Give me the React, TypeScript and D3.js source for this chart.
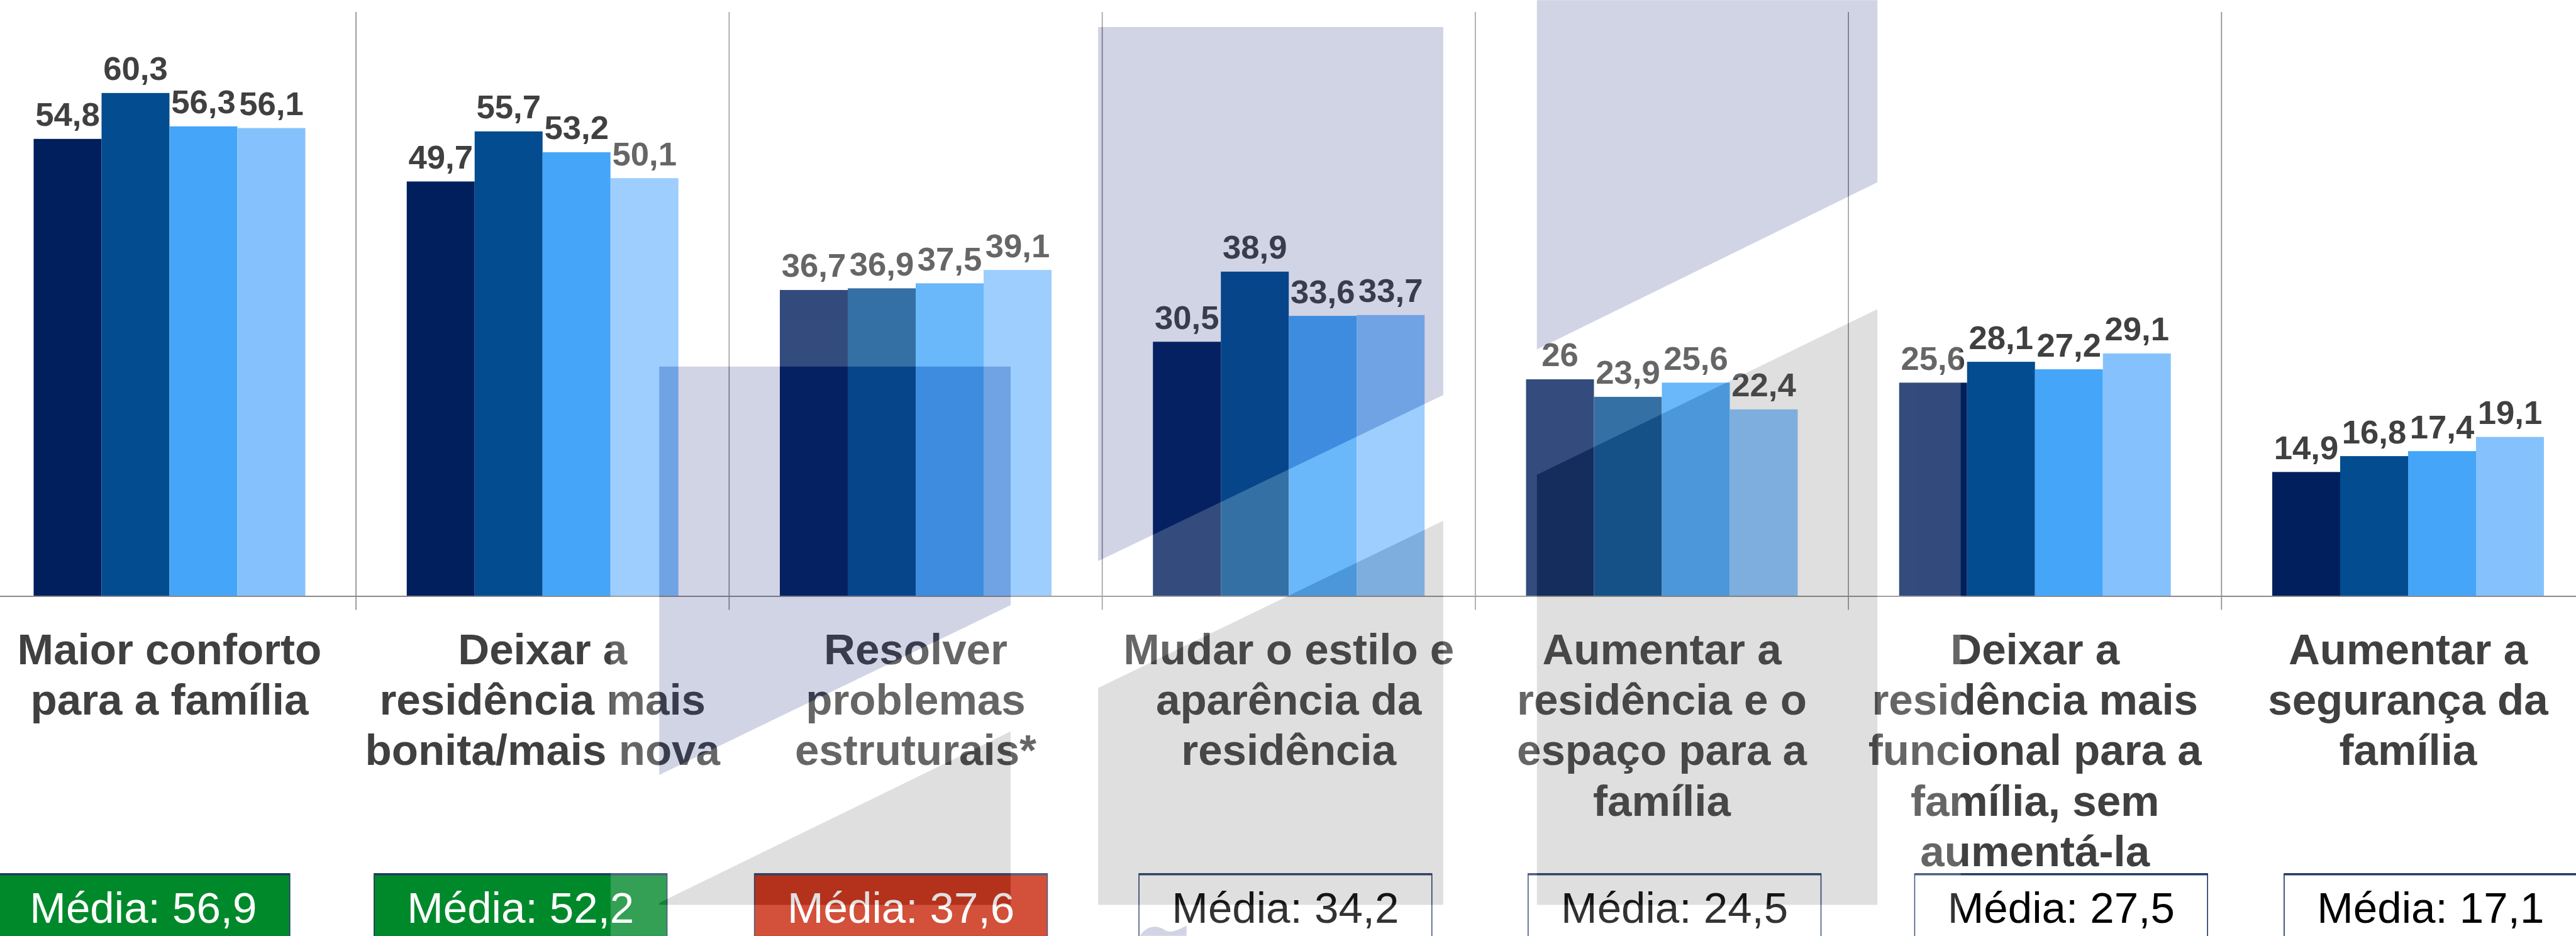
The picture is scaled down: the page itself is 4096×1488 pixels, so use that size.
import React from "react";
import * as d3 from "d3";

// ---------- DATA ----------
const categories = [
  "Maior conforto\npara a família",
  "Deixar a\nresidência mais\nbonita/mais nova",
  "Resolver\nproblemas\nestruturais*",
  "Mudar o estilo e\naparência da\nresidência",
  "Aumentar a\nresidência e o\nespaço para a\nfamília",
  "Deixar a\nresidência mais\nfuncional para a\nfamília, sem\naumentá-la",
  "Aumentar a\nsegurança da\nfamília",
];
const series = ["Série 1", "Série 2", "Série 3", "Série 4"];
const serie1 = [54.8, 49.7, 36.7, 30.5, 26, 25.6, 14.9];
const serie2 = [60.3, 55.7, 36.9, 38.9, 23.9, 28.1, 16.8];
const serie3 = [56.3, 53.2, 37.5, 33.6, 25.6, 27.2, 17.4];
const serie4 = [56.1, 50.1, 39.1, 33.7, 22.4, 29.1, 19.1];
const seriesValues = [serie1, serie2, serie3, serie4];
const mediaValues = [56.9, 52.2, 37.6, 34.2, 24.5, 27.5, 17.1];
const mediaStatus = ["alta", "alta", "baixa", "neutra", "neutra", "neutra", "neutra"];

// ---------- STYLE / LAYOUT ----------
const seriesColors = ["#001F5C", "#024C8F", "#45A5F9", "#85C2FD"];
const statusFill: Record<string, string> = { alta: "#00892B", baixa: "#C92409", neutra: "#FFFFFF" };
const statusText: Record<string, string> = { alta: "#FFFFFF", baixa: "#FFFFFF", neutra: "#000000" };
const boxLefts = [-6, 723, 1458, 2201, 2953, 3700, 4414];
const W = 4978;
const H = 1808;
const FONT = "'Liberation Sans', Arial, Helvetica, sans-serif";

const fmt = (v: number) => (Number.isInteger(v) ? String(v) : v.toFixed(1).replace(".", ","));

// watermark (semi-transparent slide background logo)
const lavenderShapes = [
  [[1274, 708], [1953, 708], [1953, 1169], [1274, 1497]],
  [[2122, 52], [2789, 52], [2789, 763], [2122, 1084]],
  [[2970, 0], [3628, 0], [3628, 352], [2970, 675]],
];
const grayShapes = [
  [[1274, 1744], [1953, 1413], [1953, 1748], [1274, 1748]],
  [[2122, 1329], [2789, 1006], [2789, 1748], [2122, 1748]],
  [[2970, 917], [3628, 597], [3628, 1748], [2970, 1748]],
];

export default function App() {
  const x0 = d3.scaleBand<string>().domain(categories).range([-33, 5014]);
  const bw = x0.bandwidth();
  const x1 = d3.scaleBand<string>().domain(series).range([98, bw - 98]);
  const y = d3.scaleLinear().domain([0, 70]).range([1152, 23]);

  const poly = (pts: number[][]) => pts.map((p) => p.join(",")).join(" ");

  return (
    <svg
      width={4096}
      height={1488}
      viewBox={`0 0 ${W} ${H}`}
      style={{ position: "absolute", left: 0, top: 0, display: "block", background: "#fff" }}
    >
      <rect x={0} y={0} width={W} height={H} fill="#fff" />
      {/* separators */}
      {categories.slice(1).map((c) => (
        <line key={"sep" + c} x1={x0(c)} x2={x0(c)} y1={23} y2={1178} stroke="#8a8a8a" strokeWidth={2} />
      ))}
      {/* bars */}
      {categories.map((c, i) => (
        <g key={"g" + i} transform={`translate(${x0(c)},0)`}>
          {series.map((s, j) => {
            const v = seriesValues[j][i];
            return (
              <rect
                key={s}
                x={x1(s)}
                y={y(v)}
                width={x1.bandwidth()}
                height={y(0) - y(v)}
                fill={seriesColors[j]}
              />
            );
          })}
          {series.map((s, j) => {
            const v = seriesValues[j][i];
            return (
              <text
                key={"t" + s}
                x={(x1(s) as number) + x1.bandwidth() / 2}
                y={y(v) - 25}
                textAnchor="middle"
                fontFamily={FONT}
                fontWeight="bold"
                fontSize={64}
                fill="#404040"
              >
                {fmt(v)}
              </text>
            );
          })}
        </g>
      ))}
      {/* baseline */}
      <line x1={0} x2={W} y1={y(0)} y2={y(0)} stroke="#8a8a8a" strokeWidth={2.5} />
      {/* category labels */}
      {categories.map((c) => (
        <text
          key={"lab" + c}
          textAnchor="middle"
          fontFamily={FONT}
          fontWeight="bold"
          fontSize={84}
          fill="#404040"
        >
          {c.split("\n").map((line, k) => (
            <tspan key={k} x={(x0(c) as number) + bw / 2} y={1283 + k * 97.5}>
              {line}
            </tspan>
          ))}
        </text>
      ))}
      {/* média boxes */}
      {mediaValues.map((m, i) => (
        <g key={"m" + i}>
          <rect
            x={boxLefts[i]}
            y={1688}
            width={566}
            height={140}
            fill={statusFill[mediaStatus[i]]}
            stroke="#1F3864"
            strokeWidth={2}
          />
          <line x1={boxLefts[i]} x2={boxLefts[i] + 566} y1={1689} y2={1689} stroke="#1F3864" strokeWidth={4} />
          <text
            x={boxLefts[i] + 283}
            y={1783}
            textAnchor="middle"
            fontFamily={FONT}
            fontSize={84}
            fill={statusText[mediaStatus[i]]}
          >
            {`Média: ${fmt(m)}`}
          </text>
        </g>
      ))}
      {/* watermark overlay */}
      <g opacity={0.2}>
        <rect x={1180} y={0} width={3789 - 1180} height={H} fill="#ffffff" />
        {lavenderShapes.map((p, k) => (
          <polygon key={"lv" + k} points={poly(p)} fill="#1E2D7D" />
        ))}
        {grayShapes.map((p, k) => (
          <polygon key={"gr" + k} points={poly(p)} fill="#646464" />
        ))}
        <path
          d="M2203,1808 C2212,1792 2232,1784 2250,1796 C2262,1805 2278,1796 2293,1788 L2293,1808 Z"
          fill="#1E2D7D"
        />
      </g>
    </svg>
  );
}
